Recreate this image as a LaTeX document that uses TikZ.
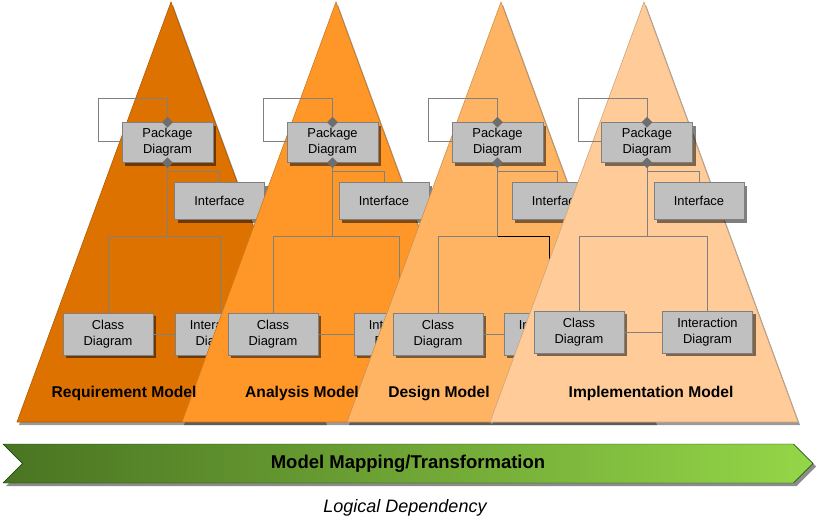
\documentclass[tikz,border=0pt]{standalone}
\usepackage{fontspec}
\setmainfont{Liberation Sans}
\usetikzlibrary{shapes.geometric}
\usetikzlibrary{shapes.symbols}
\usetikzlibrary{shadows}

\definecolor{reqfill}{RGB}{221,114,0}
\definecolor{anafill}{RGB}{255,150,40}
\definecolor{desfill}{RGB}{255,180,100}
\definecolor{impfill}{RGB}{255,204,153}
\definecolor{boxfill}{RGB}{192,192,192}
\definecolor{wiregray}{RGB}{128,128,128}
\definecolor{knobgray}{RGB}{110,110,110}
\definecolor{greendark}{RGB}{74,116,34}
\definecolor{greenlight}{RGB}{148,214,72}

\tikzset{
  diagbox/.style={draw=wiregray, fill=boxfill, inner sep=0pt, align=center,
    font=\fontsize{12.9}{16}\selectfont,
    drop shadow={shadow xshift=3pt, shadow yshift=-3pt, fill=black, opacity=.5}},
  wire/.style={draw=wiregray, line width=.8pt},
  knob/.style={diamond, fill=knobgray, inner sep=0pt, minimum width=11pt, minimum height=11pt},
  modellabel/.style={font=\fontsize{15.6}{18}\selectfont\bfseries},
}

\begin{document}
\begin{tikzpicture}[x=1pt, y=-1pt]
        \useasboundingbox (0,0) rectangle (816,522);

        % Four model pyramids, back to front
        \foreach \i/\apex/\D/\ifc/\cls/\itr/\row/\fillc/\forkc in {
            1/171/167.5/219.5/108/220/334/reqfill/wiregray,
            2/336/332.5/384/273/399/334/anafill/wiregray,
            3/501/497.5/557/438/549/334/desfill/black,
            4/644/647/699/579/707.5/332/impfill/wiregray} {
            % pyramid and its shadow
            \fill[black, opacity=.4] (\apex+2,5) -- (\apex+156,425) -- (\apex-152,425) -- cycle;
            \filldraw[fill=\fillc, draw=\fillc!80!black, line width=.6pt]
                (\apex,2) -- (\apex+154,422) -- (\apex-154,422) -- cycle;

            % diagram boxes
            \node[diagbox, minimum width=91pt, minimum height=40pt] (pkg\i) at (\D,142.5) {Package\\Diagram};
            \node[diagbox, minimum width=90pt, minimum height=37pt] (ifc\i) at (\ifc,201) {Interface};
            \node[diagbox, minimum width=90pt, minimum height=42pt] (cls\i) at (\cls,\row) {Class\\Diagram};
            \node[diagbox, minimum width=90pt, minimum height=42pt] (itr\i) at (\itr,\row) {Interaction\\Diagram};

            % connectors
            \coordinate (hook\i) at ({\D-69},98);
            \coordinate (tap\i) at (\D,171);
            \coordinate (fork\i) at (\D,236);
            \coordinate (back\i) at (pkg\i.west |- 0,141);
            \draw[wire] (pkg\i.north) |- (hook\i) |- (back\i);
            \draw[wire] (pkg\i.south) -- (fork\i);
            \draw[wire] (tap\i) -| (ifc\i.north);
            \draw[wire] (cls\i.north) |- (fork\i);
            \draw[wire, draw=\forkc] (fork\i) -| (itr\i.north);
            \draw[wire] (cls\i) -- (itr\i);
            \node[knob] (top\i) at (pkg\i.north) {};
            \node[knob] (bot\i) at (pkg\i.south) {};
        }

        % Model names
        \foreach \lx/\txt in {124/Requirement Model, 302/Analysis Model,
            439/Design Model, 651/Implementation Model} {
            \node[modellabel] (name\lx) at (\lx,393.5) {\txt};
        }

        % Mapping arrow
        \node[signal, signal from=west, signal to=east, inner sep=0pt,
            minimum width=810pt, minimum height=39pt,
            left color=greendark, right color=greenlight, draw=black!75!green,
            drop shadow={shadow xshift=3pt, shadow yshift=-3pt, fill=black, opacity=.45},
            font=\fontsize{18.5}{20}\selectfont\bfseries] (mapping) at (408,463.5) {\raisebox{-1.5pt}{Model Mapping/Transformation}};
        \node[font=\fontsize{18}{20}\selectfont\itshape] (logic) at (405,507.5) {Logical Dependency};

\end{tikzpicture}
\end{document}
